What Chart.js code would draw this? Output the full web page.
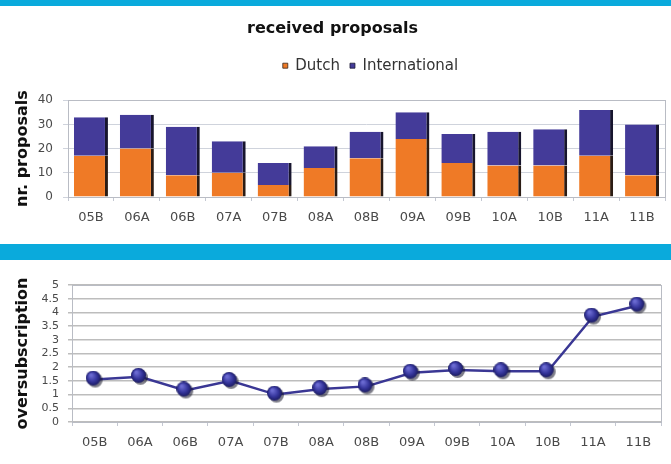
<!DOCTYPE html>
<html>
<head>
<meta charset="utf-8">
<script src="https://cdn.jsdelivr.net/npm/chart.js@4.4.1/dist/chart.umd.min.js"></script>
<style>
  html, body { margin: 0; padding: 0; background: #fff; }
  body { width: 671px; height: 464px; position: relative; overflow: hidden; font-family: "DejaVu Sans", sans-serif; }
  .band { position: absolute; left: 0; width: 671px; background: #0aaadc; }
  #band-top { top: 0; height: 6px; }
  #band-mid { top: 244px; height: 16px; }
  #wrap-proposals { position: absolute; left: 0; top: 8px; width: 671px; height: 232px; }
  #wrap-over { position: absolute; left: 0; top: 262px; width: 671px; height: 202px; }
</style>
</head>
<body>
<div class="band" id="band-top"></div>
<div class="band" id="band-mid"></div>
<div id="wrap-proposals"><canvas id="proposals-chart"></canvas></div>
<div id="wrap-over"><canvas id="over-chart"></canvas></div>

<script>
// Semestres
const semesters = ['05B', '06A', '06B', '07A', '07B', '08A', '08B', '09A', '09B', '10A', '10B', '11A', '11B'];

// Propostas recebidas
const dutchProposals = [17, 20, 9, 10, 5, 12, 16, 24, 14, 13, 13, 17, 9];
const internationalProposals = [16, 14, 20, 13, 9, 9, 11, 11, 12, 14, 15, 19, 21];

// Oversubscription por semestre
const oversubscription = [1.55, 1.65, 1.15, 1.5, 1.0, 1.2, 1.3, 1.8, 1.9, 1.85, 1.85, 3.85, 4.25];

const proposalTicks = [0, 10, 20, 30, 40];
const overTicks = [0, 0.5, 1, 1.5, 2, 2.5, 3, 3.5, 4, 4.5, 5];

const FONT = '"DejaVu Sans", sans-serif';
const TICK_COLOR = '#4a4a4a';

// Moldura cinza à volta da área do gráfico
const frame = {
    id: 'frame',
    afterDatasetsDraw(chart) {
        const a = chart.chartArea;
        const ctx = chart.ctx;
        ctx.save();
        ctx.strokeStyle = '#b9bcc4';
        ctx.lineWidth = 1;
        ctx.strokeRect(Math.round(a.left) + 0.5, Math.round(a.top) + 0.5,
            Math.round(a.right - a.left), Math.round(a.bottom - a.top));
        ctx.restore();
    }
};

// Legenda deslocada para a direita e com mais espaço por baixo
const legendShift = {
    id: 'legendShift',
    beforeLayout(chart) {
        const legend = chart.legend;
        if (legend && !legend._patched) {
            const fit = legend.fit;
            legend.fit = function() {
                fit.call(this);
                this.height += 17;
            };
            legend._patched = true;
        }
    },
    afterLayout(chart) {
        chart.legend.left += 38;
        chart.legend.right += 38;
    }
};

// Marcador esférico para os pontos da linha
function makeBall(size) {
    const c = document.createElement('canvas');
    c.width = size + 3;
    c.height = size + 3;
    const ctx = c.getContext('2d');
    const r = size / 2;
    // sombra
    ctx.fillStyle = 'rgba(20, 20, 40, 0.55)';
    ctx.beginPath();
    ctx.arc(r + 2, r + 2, r, 0, Math.PI * 2);
    ctx.fill();
    const g = ctx.createRadialGradient(r * 0.7, r * 0.6, 1, r, r, r);
    g.addColorStop(0, '#6b6bd2');
    g.addColorStop(0.6, '#34349a');
    g.addColorStop(1, '#1c1c62');
    ctx.fillStyle = g;
    ctx.beginPath();
    ctx.arc(r, r, r, 0, Math.PI * 2);
    ctx.fill();
    return c;
}

function initProposalsChart() {
    const ctx = document.getElementById('proposals-chart').getContext('2d');
    new Chart(ctx, {
        type: 'bar',
        data: {
            labels: semesters,
            datasets: [{
                label: 'Dutch',
                data: dutchProposals,
                backgroundColor: '#ef7a26',
                borderColor: '#2b1c14',
                borderWidth: { top: 0, right: 3, bottom: 0, left: 0 },
                borderSkipped: false
            }, {
                label: 'International',
                data: internationalProposals,
                backgroundColor: '#443b99',
                borderColor: '#17152e',
                borderWidth: { top: 0, right: 3, bottom: 0, left: 0 },
                borderSkipped: false
            }]
        },
        options: {
            responsive: true,
            maintainAspectRatio: false,
            animation: false,
            layout: { padding: { left: 0, right: 6, top: 0, bottom: 0 } },
            datasets: { bar: { categoryPercentage: 1, barPercentage: 0.74 } },
            plugins: {
                tooltip: { enabled: false },
                title: {
                    display: true,
                    text: 'received proposals',
                    color: '#111',
                    font: { family: FONT, size: 16, weight: 'bold' },
                    padding: { top: 11, bottom: 10 }
                },
                legend: {
                    display: true,
                    labels: {
                        color: '#333',
                        font: { family: FONT, size: 15 },
                        boxWidth: 5,
                        boxHeight: 5,
                        padding: 10
                    }
                }
            },
            scales: {
                x: {
                    stacked: true,
                    border: { display: false },
                    grid: { display: true, drawOnChartArea: false, offset: true, tickLength: 4, color: '#c4c8d2' },
                    ticks: { color: TICK_COLOR, font: { family: FONT, size: 13 }, padding: 9, maxRotation: 0 },
                    afterFit: s => { s.height = 43; }
                },
                y: {
                    stacked: true,
                    min: 0,
                    max: 40,
                    afterBuildTicks: s => { s.ticks = proposalTicks.map(v => ({ value: v })); },
                    border: { display: false },
                    grid: { color: '#cfd3dc', tickLength: 5 },
                    ticks: { color: TICK_COLOR, font: { family: FONT, size: 12 }, padding: 10 },
                    title: {
                        display: true,
                        text: 'nr. proposals',
                        color: '#111',
                        font: { family: FONT, size: 16, weight: 'bold' },
                        padding: { top: 13, bottom: 0 }
                    },
                    afterFit: s => { s.width = 68; }
                }
            }
        },
        plugins: [frame, legendShift]
    });
}

function initOverChart() {
    const ctx = document.getElementById('over-chart').getContext('2d');
    new Chart(ctx, {
        type: 'line',
        data: {
            labels: semesters,
            datasets: [{
                label: 'oversubscription',
                data: oversubscription,
                borderColor: '#3a3794',
                borderWidth: 2.5,
                pointStyle: makeBall(15),
                pointRadius: 7.5,
                tension: 0
            }]
        },
        options: {
            responsive: true,
            maintainAspectRatio: false,
            animation: false,
            layout: { padding: { left: 0, right: 6, top: 23, bottom: 0 } },
            plugins: {
                tooltip: { enabled: false },
                legend: { display: false },
                title: { display: false }
            },
            scales: {
                x: {
                    offset: true,
                    border: { display: false },
                    grid: { display: true, drawOnChartArea: false, offset: true, tickLength: 4, color: '#c4c8d2' },
                    ticks: { color: TICK_COLOR, font: { family: FONT, size: 13 }, padding: 9, maxRotation: 0 },
                    afterFit: s => { s.height = 42; }
                },
                y: {
                    min: 0,
                    max: 5,
                    afterBuildTicks: s => { s.ticks = overTicks.map(v => ({ value: v })); },
                    border: { display: false },
                    grid: { color: '#bdbdbd', lineWidth: 1.5, tickLength: 4 },
                    ticks: {
                        color: TICK_COLOR,
                        font: { family: FONT, size: 11, lineHeight: 1 },
                        padding: 9,
                        autoSkip: false,
                        callback: v => String(v)
                    },
                    title: {
                        display: true,
                        text: 'oversubscription',
                        color: '#111',
                        font: { family: FONT, size: 16, weight: 'bold' },
                        padding: { top: 13, bottom: 0 }
                    },
                    afterFit: s => { s.width = 72; }
                }
            }
        },
        plugins: [frame]
    });
}

document.addEventListener('DOMContentLoaded', function() {
    initProposalsChart();
    initOverChart();
});
</script>
</body>
</html>
